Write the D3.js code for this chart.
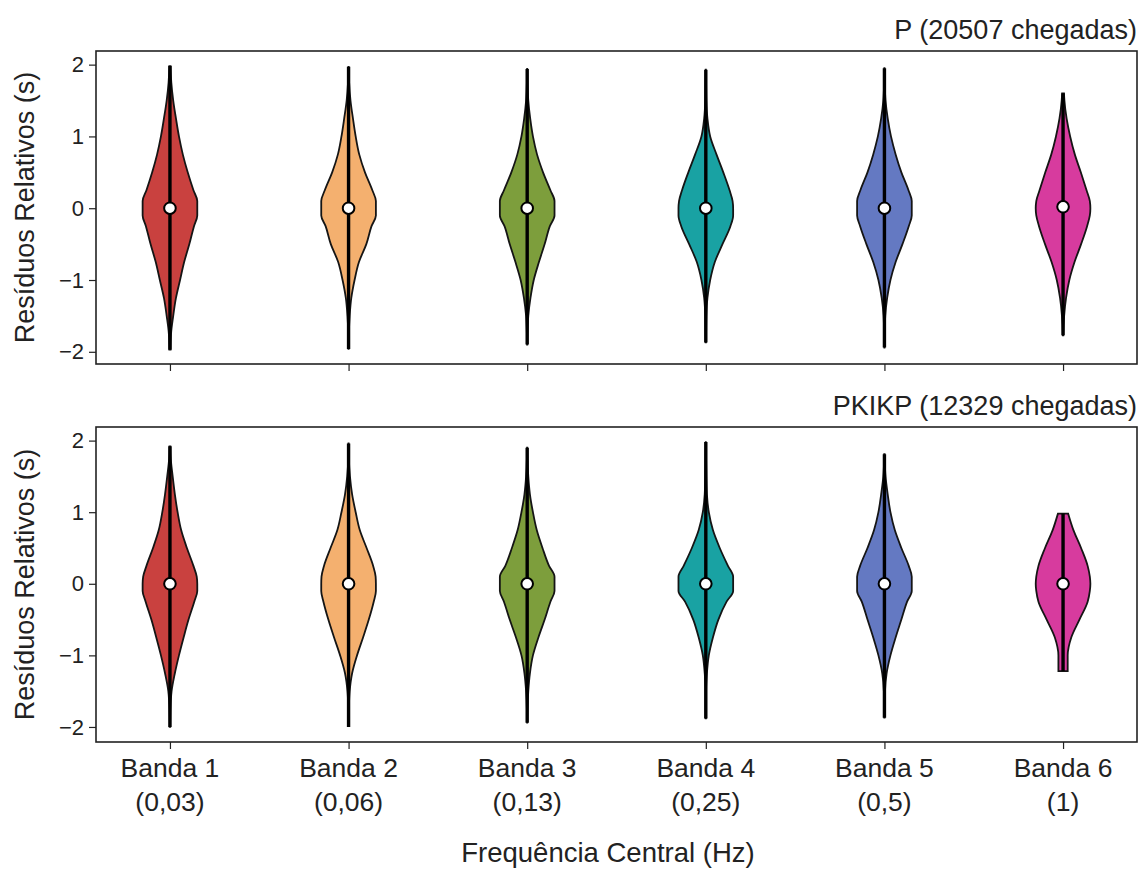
<!DOCTYPE html>
<html>
<head>
<meta charset="utf-8">
<script src="https://cdn.jsdelivr.net/npm/d3@7"></script>
<style>
  body { margin: 0; background: #fff; }
  svg { font-family: "Liberation Sans", Arial, sans-serif; }
</style>
</head>
<body>
<svg width="1147" height="871"></svg>
<script>
const bands = ["Banda 1", "Banda 2", "Banda 3", "Banda 4", "Banda 5", "Banda 6"];
const freqs = ["(0,03)", "(0,06)", "(0,13)", "(0,25)", "(0,5)", "(1)"];
const colors = ["#c9413f", "#f4b06f", "#7d9e3c", "#19a2a3", "#6479c2", "#d73b9e"];
const yTicks = [-2, -1, 0, 1, 2];

// residual grid (s) where the violin widths were read, widths relative to max
const residGrid = [-2, -1.75, -1.5, -1.25, -1, -0.75, -0.5, -0.25, -0.1, 0, 0.1, 0.25, 0.5, 0.75, 1, 1.25, 1.5, 1.75, 2];

// P arrivals
const pMin = [-1.97, -1.96, -1.9, -1.87, -1.94, -1.77];
const pMax = [1.98, 1.97, 1.94, 1.93, 1.95, 1.6];
const pMedian = [0, 0, 0, 0, 0, 0.02];
const pDensity = [
  [0.02, 0.04, 0.12, 0.22, 0.37, 0.52, 0.71, 0.88, 1, 1, 1, 0.86, 0.65, 0.47, 0.33, 0.22, 0.12, 0.05, 0.02],
  [0, 0.01, 0.04, 0.1, 0.22, 0.38, 0.65, 0.84, 1, 1, 1, 0.87, 0.6, 0.39, 0.26, 0.16, 0.07, 0.02, 0],
  [0, 0.01, 0.04, 0.12, 0.24, 0.43, 0.64, 0.83, 1, 1, 1, 0.85, 0.58, 0.36, 0.21, 0.11, 0.04, 0.01, 0],
  [0, 0.01, 0.02, 0.06, 0.16, 0.33, 0.61, 0.9, 1, 1, 0.98, 0.87, 0.64, 0.39, 0.16, 0.06, 0.02, 0.01, 0],
  [0, 0.01, 0.03, 0.1, 0.22, 0.41, 0.66, 0.89, 1, 1, 1, 0.88, 0.62, 0.41, 0.24, 0.12, 0.04, 0.01, 0],
  [0, 0.01, 0.04, 0.11, 0.23, 0.42, 0.66, 0.88, 0.98, 1, 0.98, 0.86, 0.65, 0.43, 0.26, 0.13, 0.05, 0.01, 0]
];

// PKIKP arrivals
const pkMin = [-2.0, -2.0, -1.94, -1.88, -1.87, -1.22];
const pkMax = [1.92, 1.96, 1.9, 1.98, 1.81, 0.98];
const pkMedian = [0, 0, 0, 0, 0, 0];
const pkDensity = [
  [0.01, 0.02, 0.06, 0.18, 0.33, 0.5, 0.68, 0.89, 1, 1, 0.98, 0.86, 0.62, 0.41, 0.28, 0.18, 0.1, 0.03, 0.01],
  [0, 0.01, 0.04, 0.13, 0.31, 0.53, 0.74, 0.92, 1, 1, 0.99, 0.9, 0.66, 0.41, 0.26, 0.13, 0.05, 0.01, 0],
  [0, 0.01, 0.04, 0.1, 0.21, 0.41, 0.64, 0.85, 1, 1, 1, 0.8, 0.56, 0.35, 0.21, 0.1, 0.04, 0.01, 0],
  [0, 0.01, 0.01, 0.04, 0.11, 0.26, 0.46, 0.76, 1, 1, 1, 0.81, 0.51, 0.26, 0.11, 0.04, 0.02, 0.01, 0],
  [0, 0.01, 0.02, 0.08, 0.22, 0.41, 0.62, 0.83, 1, 1, 1, 0.89, 0.62, 0.38, 0.22, 0.12, 0.04, 0.01, 0],
  [0.17, 0.17, 0.17, 0.17, 0.17, 0.3, 0.6, 0.9, 0.98, 1, 0.98, 0.9, 0.66, 0.38, 0.17, 0.17, 0.17, 0.17, 0.17]
];

const svg = d3.select("svg");
const left = 96, right = 1137;
const halfWidth = 0.153; // violin half width in x units
const textColor = "#222";

const x = d3.scaleLinear().domain([0.586, 6.414]).range([left, right]);

function densAt(dens, v) {
  const i = d3.bisectRight(residGrid, v) - 1;
  if (i < 0) return dens[0];
  if (i >= residGrid.length - 1) return dens[dens.length - 1];
  const t = (v - residGrid[i]) / (residGrid[i + 1] - residGrid[i]);
  return dens[i] + t * (dens[i + 1] - dens[i]);
}

function drawPanel(top, bottom, domain, title, mins, maxs, medians, density, showLabels) {
  const y = d3.scaleLinear().domain(domain).range([bottom, top]);
  const g = svg.append("g");

  const area = d3.area()
    .curve(d3.curveMonotoneY)
    .y((d) => y(d[0]))
    .x0((d) => x(d[2] - d[1] * halfWidth))
    .x1((d) => x(d[2] + d[1] * halfWidth));

  bands.forEach((b, i) => {
    const pos = i + 1;
    const pts = [[maxs[i], densAt(density[i], maxs[i]), pos]];
    for (let k = residGrid.length - 1; k >= 0; k--) {
      const v = residGrid[k];
      if (v < maxs[i] && v > mins[i]) pts.push([v, density[i][k], pos]);
    }
    pts.push([mins[i], densAt(density[i], mins[i]), pos]);

    g.append("path")
      .attr("d", area(pts))
      .attr("fill", colors[i])
      .attr("stroke", "#151515")
      .attr("stroke-width", 1.8);

    g.append("line")
      .attr("x1", x(pos)).attr("x2", x(pos))
      .attr("y1", y(mins[i])).attr("y2", y(maxs[i]))
      .attr("stroke", "#000")
      .attr("stroke-width", 3.4);

    g.append("circle")
      .attr("cx", x(pos))
      .attr("cy", y(medians[i]))
      .attr("r", 5.8)
      .attr("fill", "#fff")
      .attr("stroke", "#000")
      .attr("stroke-width", 2);
  });

  // frame
  g.append("rect")
    .attr("x", left).attr("y", top)
    .attr("width", right - left).attr("height", bottom - top)
    .attr("fill", "none")
    .attr("stroke", "#222")
    .attr("stroke-width", 1.6);

  // y axis
  const yAxis = d3.axisLeft(y).tickValues(yTicks).tickSize(7).tickPadding(5)
    .tickFormat((d) => (d < 0 ? "\u2212" + Math.abs(d) : d));
  const ya = g.append("g").attr("transform", `translate(${left},0)`).call(yAxis);
  ya.select(".domain").remove();
  ya.selectAll("line").attr("stroke", "#222").attr("stroke-width", 1.2);
  ya.selectAll("text").attr("fill", textColor).style("font-size", "22px")
    .style("font-family", "'Liberation Sans', Arial, sans-serif");

  // x ticks
  const xAxis = d3.axisBottom(x).tickValues([1, 2, 3, 4, 5, 6]).tickSize(7).tickFormat("");
  const xa = g.append("g").attr("transform", `translate(0,${bottom})`).call(xAxis);
  xa.select(".domain").remove();
  xa.selectAll("line").attr("stroke", "#222").attr("stroke-width", 1.2);

  if (showLabels) {
    bands.forEach((b, i) => {
      const t = g.append("text")
        .attr("x", x(i + 1))
        .attr("text-anchor", "middle")
        .attr("fill", textColor)
        .style("font-size", "26.5px");
      t.append("tspan").attr("x", x(i + 1)).attr("y", bottom + 35).text(b);
      t.append("tspan").attr("x", x(i + 1)).attr("y", bottom + 69).text(freqs[i]);
    });
  }

  // title
  g.append("text")
    .attr("x", right)
    .attr("y", top - 12)
    .attr("text-anchor", "end")
    .attr("fill", textColor)
    .style("font-size", "27px")
    .text(title);

  // y label
  g.append("text")
    .attr("transform", `translate(34,${(top + bottom) / 2}) rotate(-90)`)
    .attr("text-anchor", "middle")
    .attr("fill", textColor)
    .style("font-size", "27px")
    .text("Resíduos Relativos (s)");
}

drawPanel(51, 364, [-2.17, 2.19], "P (20507 chegadas)", pMin, pMax, pMedian, pDensity, false);
drawPanel(427, 742, [-2.21, 2.19], "PKIKP (12329 chegadas)", pkMin, pkMax, pkMedian, pkDensity, true);

svg.append("text")
  .attr("x", 608)
  .attr("y", 862)
  .attr("text-anchor", "middle")
  .attr("fill", textColor)
  .style("font-size", "27.5px")
  .text("Frequência Central (Hz)");
</script>
</body>
</html>
